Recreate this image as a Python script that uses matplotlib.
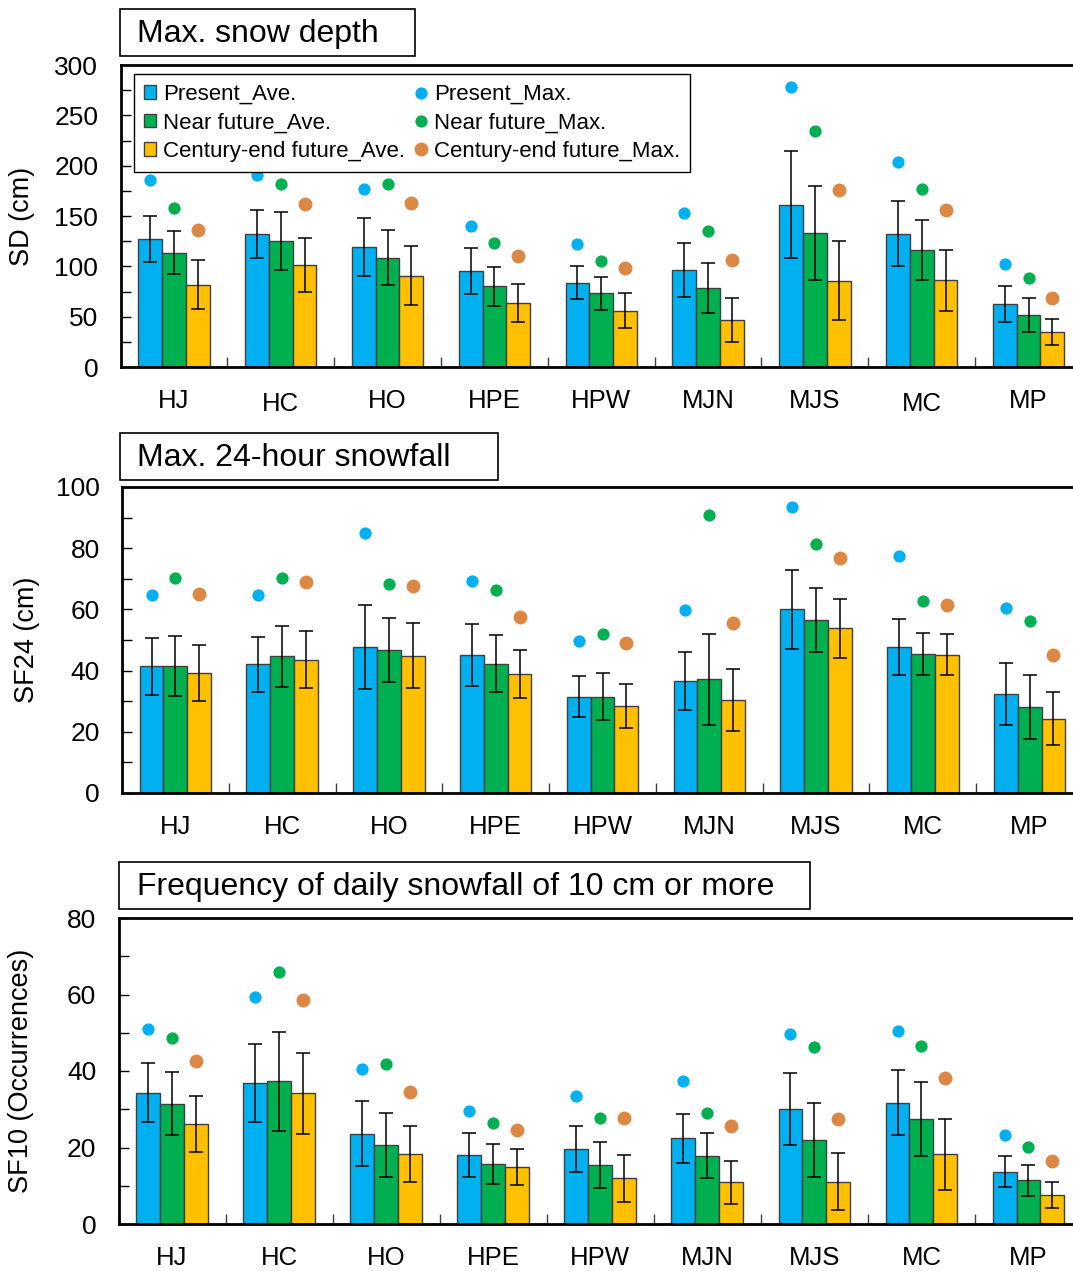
import matplotlib.pyplot as plt
from matplotlib.patches import Rectangle
from matplotlib.transforms import ScaledTranslation
import numpy as np

plt.rcParams['font.family'] = ['Liberation Sans', 'DejaVu Sans']

W, H = 1073, 1271

sites = ["HJ", "HC", "HO", "HPE", "HPW", "MJN", "MJS", "MC", "MP"]

# Max. snow depth (cm)
sd_pres_ave = [127.6, 132.3, 119.0, 95.5, 83.9, 96.1, 161.4, 132.3, 62.3]
sd_pres_err = [22.8, 23.8, 29.0, 22.5, 16.4, 26.9, 53.0, 32.3, 17.7]
sd_near_ave = [113.7, 125.6, 108.4, 80.2, 73.3, 78.9, 132.9, 116.0, 51.4]
sd_near_err = [21.4, 28.8, 27.4, 19.2, 16.4, 24.9, 46.6, 30.0, 17.0]
sd_cent_ave = [81.9, 101.4, 90.5, 63.6, 56.0, 46.7, 85.9, 86.2, 35.1]
sd_cent_err = [24.7, 27.2, 29.4, 19.0, 17.3, 21.9, 39.0, 30.2, 12.8]
sd_pres_max = [186, 191, 177, 140, 122, 153, 278, 204, 102]
sd_near_max = [158, 182, 182, 123, 105, 135, 234, 177, 88]
sd_cent_max = [136, 162, 163, 110, 98, 106, 176, 156, 69]

# Max. 24-hour snowfall (cm)
sf24_pres_ave = [41.4, 42.1, 47.8, 45.1, 31.5, 36.7, 60.0, 47.7, 32.3]
sf24_pres_err = [9.4, 9.0, 13.7, 10.2, 6.8, 9.5, 12.8, 9.3, 10.2]
sf24_near_ave = [41.6, 44.7, 46.8, 42.3, 31.5, 37.1, 56.5, 45.4, 28.0]
sf24_near_err = [9.8, 10.0, 10.4, 9.2, 7.7, 15.0, 10.5, 6.8, 10.4]
sf24_cent_ave = [39.2, 43.6, 44.9, 38.8, 28.5, 30.4, 53.8, 45.2, 24.3]
sf24_cent_err = [9.2, 9.3, 10.6, 7.8, 7.2, 10.0, 9.7, 6.8, 8.6]
sf24_pres_max = [64.8, 64.7, 85.0, 69.3, 49.8, 59.9, 93.4, 77.6, 60.4]
sf24_near_max = [70.3, 70.3, 68.2, 66.5, 52.1, 91.0, 81.5, 62.8, 56.1]
sf24_cent_max = [64.9, 69.0, 67.7, 57.4, 48.9, 55.4, 76.7, 61.6, 45.1]

# Frequency of daily snowfall >= 10 cm
sf10_pres_ave = [34.3, 36.8, 23.6, 18.0, 19.7, 22.4, 30.0, 31.7, 13.7]
sf10_pres_err = [7.7, 10.2, 8.5, 5.7, 6.0, 6.4, 9.4, 8.5, 4.1]
sf10_near_ave = [31.5, 37.3, 20.7, 15.7, 15.4, 17.8, 22.0, 27.4, 11.4]
sf10_near_err = [8.3, 13.0, 8.4, 5.3, 6.0, 5.9, 9.7, 9.7, 4.1]
sf10_cent_ave = [26.1, 34.2, 18.3, 14.9, 11.9, 10.9, 11.1, 18.2, 7.6]
sf10_cent_err = [7.3, 10.6, 7.4, 4.6, 6.2, 5.6, 7.4, 9.2, 3.5]
sf10_pres_max = [51.1, 59.4, 40.5, 29.5, 33.4, 37.4, 49.7, 50.4, 23.2]
sf10_near_max = [48.5, 66.0, 41.7, 26.3, 27.8, 29.0, 46.2, 46.5, 20.1]
sf10_cent_max = [42.5, 58.6, 34.4, 24.7, 27.6, 25.7, 27.5, 38.1, 16.4]

blue = '#00B0F0'
green = '#00B050'
yellow = '#FFC000'
orange = '#DD8744'

fig = plt.figure(figsize=(W / 100, H / 100), dpi=100)


def px_axes(left, top, right, bottom):
    # pixel box -> figure fraction
    return [left / W, 1 - bottom / H, (right - left) / W, (bottom - top) / H]


def title_box(left, top, right, bottom, text):
    fig.add_artist(Rectangle((left / W, 1 - bottom / H), (right - left) / W, (bottom - top) / H,
                             transform=fig.transFigure, fill=False, edgecolor='black', lw=1.2))
    fig.text(137 / W, 1 - (top + 33) / H, text, fontsize=23, va='baseline', ha='left')


def panel(pos, ave, err, mx, ymax, ystep, yminor, ylabel, label_x):
    ax = fig.add_axes(pos)
    x = np.arange(len(sites))
    w = 0.223
    bars = []
    for k, (a, e, c) in enumerate(zip(ave, err, [blue, green, yellow])):
        b = ax.bar(x + (k - 1) * w, a, w, yerr=e, color=c, edgecolor='#404040', linewidth=1,
                   error_kw=dict(ecolor='black', elinewidth=1.1, capsize=5, capthick=1.1), zorder=2)
        bars.append(b)
    dots = []
    for k, (m, c, s) in enumerate(zip(mx, [blue, green, orange], [8.8, 8.8, 10])):
        d, = ax.plot(x + (k - 1) * w, m, 'o', color=c, markersize=s, markeredgewidth=0, zorder=3)
        dots.append(d)

    ax.set_xlim(-0.5, len(sites) - 0.5)
    ax.set_ylim(0, ymax)
    ax.set_yticks(np.arange(0, ymax + 1, ystep))
    ax.set_yticks(np.arange(yminor, ymax, ystep), minor=True)
    ax.set_xticks(x)
    ax.set_xticklabels(sites)
    ax.set_xticks(x[:-1] + 0.5, minor=True)

    ax.tick_params(axis='y', which='both', direction='in', length=7, width=1, labelsize=19, pad=16)
    ax.tick_params(axis='x', which='major', length=0, labelsize=18.5, pad=15.5)
    ax.tick_params(axis='x', which='minor', direction='in', length=7, width=1, color='#404040')

    for s in ['left', 'bottom', 'top']:
        ax.spines[s].set_linewidth(2)
    ax.spines['right'].set_visible(False)

    ax.set_ylabel(ylabel, fontsize=19.5)
    ax.yaxis.set_label_coords(label_x, 0.5)
    return ax, bars, dots


# panel 1
title_box(119.5, 9, 415, 56, "Max. snow depth")
ax1, bars, dots = panel(px_axes(120.5, 65, 1082, 367),
                        [sd_pres_ave, sd_near_ave, sd_cent_ave],
                        [sd_pres_err, sd_near_err, sd_cent_err],
                        [sd_pres_max, sd_near_max, sd_cent_max],
                        300, 50, 25, "SD (cm)", -0.089)
# HC and MC labels sit a bit lower in the original
for lbl in ax1.get_xticklabels():
    if lbl.get_text() in ("HC", "MC"):
        lbl.set_transform(lbl.get_transform() + ScaledTranslation(0, -3 / 100, fig.dpi_scale_trans))

labels = ["Present_Ave.", "Near future_Ave.", "Century-end future_Ave.",
          "Present_Max.", "Near future_Max.", "Century-end future_Max."]
leg = ax1.legend(bars + dots, labels, ncol=2, loc='upper left',
                 bbox_to_anchor=(134 / W, 1 - 74 / H), bbox_transform=fig.transFigure,
                 borderaxespad=0, fancybox=False, edgecolor='black', framealpha=1,
                 fontsize=16, handlelength=0.55, handleheight=0.55, handletextpad=0.3,
                 columnspacing=0.45, labelspacing=0.33, borderpad=0.45)
leg.get_frame().set_linewidth(1)

# panel 2
title_box(119.5, 433, 498, 480, "Max. 24-hour snowfall")
panel(px_axes(122, 487, 1083, 793),
      [sf24_pres_ave, sf24_near_ave, sf24_cent_ave],
      [sf24_pres_err, sf24_near_err, sf24_cent_err],
      [sf24_pres_max, sf24_near_max, sf24_cent_max],
      100, 20, 10, "SF24 (cm)", -0.085)

# panel 3
title_box(119, 862, 810, 909, "Frequency of daily snowfall of 10 cm or more")
panel(px_axes(118.5, 918, 1082, 1224),
      [sf10_pres_ave, sf10_near_ave, sf10_cent_ave],
      [sf10_pres_err, sf10_near_err, sf10_cent_err],
      [sf10_pres_max, sf10_near_max, sf10_cent_max],
      80, 20, 10, "SF10 (Occurrences)", -0.088)

plt.savefig("out.png", dpi=100)
